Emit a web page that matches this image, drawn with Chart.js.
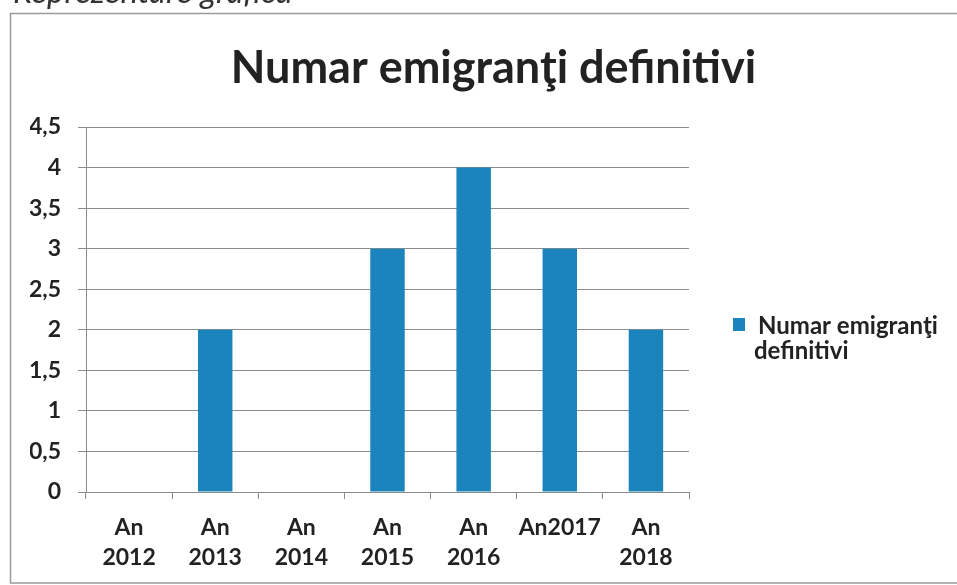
<!DOCTYPE html>
<html>
<head>
<meta charset="utf-8">
<script src="https://cdn.jsdelivr.net/npm/chart.js@4"></script>
<style>
  html, body { margin: 0; padding: 0; background: #fff; }
  #wrap { position: relative; width: 957px; height: 585px; overflow: hidden; }
  #cap { position: absolute; left: 13px; top: -29px; font: italic 33px Lato, sans-serif; line-height: 39.6px; color: #333; white-space: nowrap; }
  canvas { position: absolute; left: 0; top: 0; }
</style>
</head>
<body>
<div id="wrap">
  <canvas id="c" width="957" height="585"></canvas>
  <div id="cap">Reprezentare grafică</div>
</div>
<script>
const chartTitle = 'Numar emigranţi definitivi';
const seriesName = 'Numar emigranţi definitivi';
const legendLines = ['Numar emigranţi', 'definitivi'];
const categories = [['An', '2012'], ['An', '2013'], ['An', '2014'], ['An', '2015'], ['An', '2016'], ['An2017'], ['An', '2018']];
const values = [0, 2, 0, 3, 4, 3, 2];
const yTickLabels = ['0', '0,5', '1', '1,5', '2', '2,5', '3', '3,5', '4', '4,5'];

const TEXT = '#222222';
const BAR = '#1b84bd';
const GRID = '#8c8c8c';
const FONT = 'Lato, sans-serif';

const framePlugin = {
  id: 'frame',
  beforeDraw(chart) {
    const ctx = chart.ctx;
    ctx.save();
    ctx.strokeStyle = '#9a9a9a';
    ctx.lineWidth = 1.5;
    ctx.strokeRect(10.5, 13.5, 1000, 569.5);
    ctx.restore();
  }
};

const legendPlugin = {
  id: 'sideLegend',
  afterDraw(chart) {
    const ctx = chart.ctx;
    const ds = chart.data.datasets[0];
    ctx.save();
    ctx.fillStyle = ds.backgroundColor;
    ctx.fillRect(733, 318, 12, 13);
    ctx.fillStyle = TEXT;
    ctx.font = 'bold 24px ' + FONT;
    ctx.textBaseline = 'alphabetic';
    ctx.textAlign = 'left';
    legendLines.forEach((t, i) => ctx.fillText(t, i === 0 ? 758 : 754, 334 + i * 25));
    ctx.restore();
  }
};

new Chart(document.getElementById('c'), {
  type: 'bar',
  data: {
    labels: categories,
    datasets: [{
      label: seriesName,
      data: values,
      backgroundColor: BAR,
      categoryPercentage: 1,
      barPercentage: 0.4,
      yAxisID: 'y'
    }]
  },
  options: {
    responsive: false,
    animation: false,
    layout: { padding: { left: 30, right: 0, top: 10, bottom: 0 } },
    plugins: {
      legend: { display: false },
      tooltip: { enabled: false },
      title: {
        display: true,
        text: chartTitle,
        color: TEXT,
        font: { family: FONT, size: 45, weight: 'bold' },
        padding: { top: 31, bottom: 32 }
      }
    },
    scales: {
      x: {
        grid: { display: true, drawOnChartArea: false, drawTicks: true, tickLength: 7, color: GRID, offset: true },
        border: { display: true, color: GRID, width: 1 },
        ticks: { color: TEXT, font: { family: FONT, size: 23, weight: 'bold', lineHeight: 1.3 }, padding: 14, maxRotation: 0, autoSkip: false },
        afterFit(s) { s.height = 93; }
      },
      y: {
        min: 0, max: 4.5,
        grid: { color: GRID, lineWidth: 1, tickLength: 8, drawTicks: true },
        border: { display: true, color: GRID, width: 1 },
        ticks: {
          stepSize: 0.5,
          color: TEXT,
          padding: 17,
          font: { family: FONT, size: 23, weight: 'bold' },
          callback: (v, i) => yTickLabels[i]
        },
        afterFit(s) { s.width = 56; }
      },
      yR: {
        position: 'right',
        display: true,
        grid: { display: false, drawTicks: false },
        border: { display: false },
        ticks: { display: false },
        afterFit(s) { s.width = 268; }
      }
    }
  },
  plugins: [framePlugin, legendPlugin]
});
</script>
</body>
</html>
